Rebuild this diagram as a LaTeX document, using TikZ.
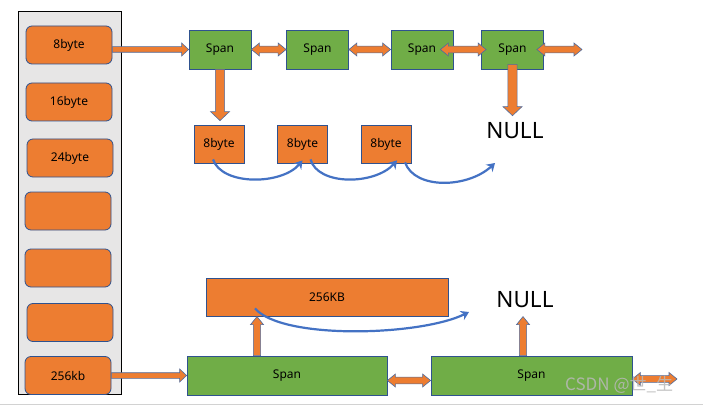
\documentclass[tikz,border=0pt]{standalone}
\usepackage{fontspec}
\setmainfont{Noto Sans}
\newfontfamily\cjkfont{Noto Sans CJK SC}
\usetikzlibrary{calc,arrows.meta}
\definecolor{orng}{HTML}{ED7D31}
\definecolor{grn}{HTML}{70AD47}
\definecolor{bord}{HTML}{2F528F}
\definecolor{curv}{HTML}{4472C4}
\definecolor{panel}{HTML}{E7E6E6}

% block arrow: shaft half width, head half width, head length, start, end
\newcommand\myarrow[5]{%
  \path (#4) coordinate (ba s) (#5) coordinate (ba e);
  \path ($(ba e)!#3!(ba s)$) coordinate (ba m);
  \filldraw[barrow] ($(ba s)!#1!90:(ba e)$) -- ($(ba m)!#1!90:(ba e)$) -- ($(ba m)!#2!90:(ba e)$)
    -- (ba e) -- ($(ba m)!#2!-90:(ba e)$) -- ($(ba m)!#1!-90:(ba e)$) -- ($(ba s)!#1!-90:(ba e)$) -- cycle;}
\newcommand\mydblarrow[5]{%
  \path (#4) coordinate (ba s) (#5) coordinate (ba e);
  \path ($(ba s)!#3!(ba e)$) coordinate (ba a) ($(ba e)!#3!(ba s)$) coordinate (ba b);
  \filldraw[barrow] (ba s) -- ($(ba a)!#2!90:(ba e)$) -- ($(ba a)!#1!90:(ba e)$) -- ($(ba b)!#1!90:(ba e)$)
    -- ($(ba b)!#2!90:(ba e)$) -- (ba e) -- ($(ba b)!#2!-90:(ba e)$) -- ($(ba b)!#1!-90:(ba e)$)
    -- ($(ba a)!#1!-90:(ba e)$) -- ($(ba a)!#2!-90:(ba e)$) -- cycle;}

\tikzset{
  sizebox/.style={draw=bord,fill=orng,rounded corners=6pt,minimum width=86pt,minimum height=38pt,
    line width=0.8pt,inner sep=0pt,font=\fontsize{12}{14}\selectfont},
  spanbox/.style={draw=bord,fill=grn,minimum height=39pt,line width=0.8pt,inner sep=0pt,
    font=\fontsize{12}{14}\selectfont},
  membox/.style={draw=bord,fill=orng,minimum height=38pt,line width=0.8pt,inner sep=0pt,
    font=\fontsize{12}{14}\selectfont},
  nulltext/.style={inner sep=0pt,font=\fontsize{22.5}{26}\selectfont},
  barrow/.style={fill=orng,draw=bord!85,line width=0.6pt,line join=miter},
  curvearrow/.style={draw=curv,line width=2.2pt,-{Stealth[length=8pt,width=10pt]}},
}

\begin{document}
\begin{tikzpicture}[x=1pt,y=-1pt]
\useasboundingbox (0,0) rectangle (703,406);
\fill[white] (0,0) rectangle (703,406);
\draw[gray!35,line width=1.5pt] (0,404.5) -- (703,404.5);

% size class panel
\node[draw=black,fill=panel,line width=0.8pt,minimum width=103pt,minimum height=383pt,inner sep=0pt] (panel) at (69.5,202.5) {};
\node[sizebox] (k1) at (69,45) {8byte};
\node[sizebox] (k2) at (69,102) {16byte};
\node[sizebox] (k3) at (70,158) {24byte};
\node[sizebox] (k4) at (68,211) {};
\node[sizebox] (k5) at (68,268) {};
\node[sizebox] (k6) at (70,322.5) {};
\node[sizebox] (k7) at (68,375.5) {256kb};

% top span list
\node[spanbox,minimum width=62pt] (s1) at (220,49.5) {Span};
\node[spanbox,minimum width=62pt] (s2) at (317.5,49.5) {Span};
\node[spanbox,minimum width=62pt] (s3) at (422,49.5) {Span};
\node[spanbox,minimum width=62pt] (s4) at (512.5,49.5) {Span};
\coordinate (r1) at (582,49.5);

% 8byte objects
\node[membox,minimum width=50pt] (b1) at (219,144) {8byte};
\node[membox,minimum width=50pt] (b2) at (302.5,144) {8byte};
\node[membox,minimum width=50pt] (b3) at (386,144) {8byte};
\node[nulltext] (n1) at (515,131) {NULL};
\coordinate (c3e) at (495,163);

% bottom
\node[membox,minimum width=242pt] (big) at (327,297) {256KB};
\node[spanbox,minimum width=200pt] (sb1) at (287,375.5) {Span};
\node[spanbox,minimum width=201pt] (sb2) at (531.5,375.5) {Span};
\node[nulltext] (n2) at (525,300) {NULL};
\coordinate (r2) at (677,379);
\coordinate (c4e) at (469,312);

% block arrows
\myarrow{2.8pt}{6.5pt}{7pt}{k1.east |- s1.west}{s1.west}
\myarrow{2.8pt}{6.5pt}{7pt}{k7.east |- sb1.west}{sb1.west}
\myarrow{4.6pt}{9.5pt}{9pt}{s1.south}{$(s1.south |- b1.north)+(0,-4)$}
\myarrow{4.6pt}{9.5pt}{9pt}{$(s4.south)+(0,-5)$}{$(s4.south |- n1.north)+(0,-7)$}
\mydblarrow{3.4pt}{6.5pt}{8pt}{s1.east}{s2.west}
\mydblarrow{3.4pt}{6.5pt}{8pt}{s2.east}{s3.west}
\mydblarrow{3.4pt}{6.5pt}{8pt}{$(s3.east)+(-13,0)$}{$(s4.west)+(5,0)$}
\mydblarrow{3.4pt}{6.5pt}{8pt}{$(s4.east)+(-7,0)$}{r1}
\myarrow{3.6pt}{6.5pt}{8pt}{$(sb1.north)+(-30,0)$}{$(sb1.north)+(-30,-39)$}
\myarrow{3.6pt}{6.5pt}{8pt}{$(sb2.north)+(-8.5,0)$}{$(sb2.north)+(-8.5,-39)$}
\mydblarrow{3.4pt}{6.5pt}{8pt}{$(sb1.east)+(0,5)$}{$(sb2.west)+(0,5)$}
\mydblarrow{3.4pt}{6.5pt}{8pt}{$(sb2.east)+(0,3.5)$}{r2}

% curved free-list arrows
\draw[curvearrow] ($(b1.south)+(-6,-4)$) .. controls (222,186) and (282,185) .. ($(b2.south)+(0,-3)$);
\draw[curvearrow] ($(b2.south)+(8,-4)$) .. controls (318,186) and (375,185) .. ($(b3.south)+(11,-3)$);
\draw[curvearrow] ($(b3.south)+(19,-1)$) .. controls (415,190) and (468,188) .. (c3e);
\draw[curvearrow] ($(big.south)+(-72,-8)$) .. controls (282,340) and (420,336) .. (c4e);

% watermark
\node[font=\cjkfont\fontsize{17}{20}\selectfont,text=gray!55,opacity=0.85,anchor=west,inner sep=0pt] (wm) at (565,385) {CSDN @世\_生};
\end{tikzpicture}
\end{document}
